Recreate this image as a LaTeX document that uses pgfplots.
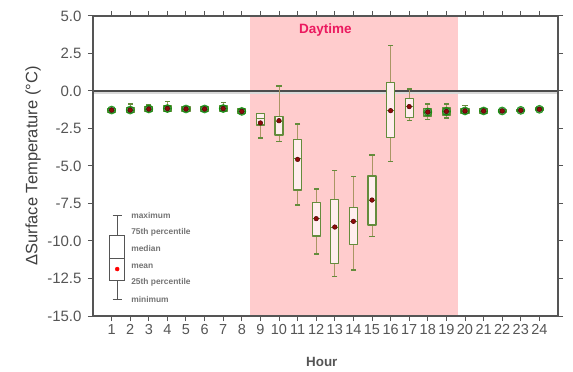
\documentclass[border=0pt]{standalone}
\usepackage{fontspec}
\setmainfont{Liberation Sans}
\usepackage{pgfplots}
\pgfplotsset{compat=1.18}
\usetikzlibrary{calc}
\definecolor{dayfill}{RGB}{255,204,205}
\definecolor{boxfill}{RGB}{255,238,238}
\definecolor{boxgreen}{RGB}{100,140,60}
\definecolor{whisk}{RGB}{170,150,100}
\definecolor{meanred}{RGB}{140,10,10}
\definecolor{daytxt}{RGB}{235,25,95}
\definecolor{axgray}{RGB}{85,85,85}
\definecolor{halo}{RGB}{40,110,40}
% position, lower whisker, lower quartile, median, upper quartile, upper whisker
\newcommand\bx[6]{%
  \pgfmathsetmacro\xl{#1-0.21}\pgfmathsetmacro\xr{#1+0.21}%
  \addplot[draw=whisk, line width=0.9pt] coordinates {(#1,#2) (#1,#3)};
  \addplot[draw=whisk, line width=0.9pt] coordinates {(#1,#5) (#1,#6)};
  \addplot[draw=boxgreen, line width=1.2pt, fill=boxfill, line join=round] coordinates {(\xl,#3) (\xr,#3) (\xr,#5) (\xl,#5) (\xl,#3)} -- cycle;
  \addplot[draw=boxgreen, line width=0.5pt] coordinates {(\xl,#4) (\xr,#4)};
}
\begin{document}
\begin{tikzpicture}
\begin{axis}[
  scale only axis, width=465pt, height=300pt,
  xmin=0, xmax=25, ymin=-15, ymax=5,
  xtick={1,...,24}, ytick={-15,-12.5,-10,-7.5,-5,-2.5,0,2.5,5},
  /pgf/number format/assume math mode=true,
  yticklabel style={/pgf/number format/fixed, /pgf/number format/fixed zerofill, /pgf/number format/precision=1, xshift=-3pt, font=\fontsize{15}{17}\selectfont},
  xticklabel style={font=\fontsize{14.5}{16}\selectfont},
  ticklabel style={text=axgray},
  tick align=outside, major tick length=5pt,
  tick style={axgray, line width=1pt},
  axis line style={axgray, line width=1.3pt},
  axis on top,
  xlabel={Hour},
  xlabel style={at={(axis description cs:0.492,-0.153)}, anchor=center, font=\fontsize{13.4}{15}\selectfont\bfseries, text=axgray},
  ylabel={ΔSurface Temperature (°C)},
  ylabel style={at={(axis description cs:-0.129,0.5)}, anchor=center, font=\fontsize{16.5}{18}\selectfont, text=black!75},
]
% daytime shading
\addplot[draw=none, fill=dayfill] coordinates {(8.42,-15) (8.42,5) (19.65,5) (19.65,-15)} -- cycle;
% zero line
\addplot[draw=black!15, line width=1.2pt] coordinates {(0,-0.13) (25,-0.13)};
\addplot[draw=black!70, line width=1.3pt] coordinates {(0,0) (25,0)};
% boxes
\bx{1}{-1.50}{-1.42}{-1.30}{-1.15}{-1.10}
\bx{2}{-1.50}{-1.42}{-1.27}{-1.10}{-0.87}
\bx{3}{-1.45}{-1.38}{-1.20}{-1.05}{-0.93}
\bx{4}{-1.45}{-1.35}{-1.17}{-1.00}{-0.71}
\bx{5}{-1.42}{-1.35}{-1.20}{-1.05}{-1.00}
\bx{6}{-1.42}{-1.35}{-1.20}{-1.05}{-1.00}
\bx{7}{-1.40}{-1.33}{-1.17}{-1.00}{-0.78}
\bx{8}{-1.60}{-1.52}{-1.36}{-1.20}{-1.15}
\bx{9}{-3.13}{-2.27}{-1.85}{-1.50}{-1.45}
\bx{10}{-3.38}{-2.93}{-2.00}{-1.71}{0.33}
\bx{11}{-7.62}{-6.60}{-4.50}{-3.22}{-2.22}
\bx{12}{-10.87}{-9.67}{-8.50}{-7.44}{-6.53}
\bx{13}{-12.38}{-11.49}{-9.10}{-7.22}{-5.31}
\bx{14}{-11.93}{-10.22}{-8.70}{-7.76}{-5.69}
\bx{15}{-9.71}{-8.93}{-7.30}{-5.67}{-4.27}
\bx{16}{-4.69}{-3.09}{-1.30}{0.58}{3.02}
\bx{17}{-1.98}{-1.76}{-1.05}{-0.49}{0.13}
\bx{18}{-1.89}{-1.67}{-1.40}{-1.16}{-0.87}
\bx{19}{-1.80}{-1.60}{-1.36}{-1.13}{-0.87}
\bx{20}{-1.60}{-1.50}{-1.33}{-1.15}{-0.98}
\bx{21}{-1.55}{-1.48}{-1.33}{-1.18}{-1.10}
\bx{22}{-1.45}{-1.40}{-1.33}{-1.26}{-1.20}
\bx{23}{-1.40}{-1.36}{-1.29}{-1.22}{-1.18}
\bx{24}{-1.35}{-1.30}{-1.22}{-1.14}{-1.10}
% whisker caps
\addplot[only marks, mark=-, mark size=2.6pt, mark options={draw=boxgreen, line width=1.6pt}] coordinates {
(2,-0.87) (3,-0.93) (4,-0.71) (7,-0.78)
(9,-3.13) (10,-3.38) (10,0.33) (11,-7.62) (11,-2.22)
(12,-10.87) (12,-6.53) (13,-12.38) (13,-5.31) (14,-11.93) (14,-5.69)
(15,-9.71) (15,-4.27) (16,-4.69) (16,3.02) (17,-1.98) (17,0.13)
(18,-1.89) (18,-0.87) (19,-1.80) (19,-0.87) (20,-0.98)};
% halo of the narrow boxes
\addplot[only marks, mark=*, mark size=4pt, mark options={fill=halo, draw=green!60!black, line width=0.8pt, opacity=0.75}] coordinates {
(1,-1.27) (2,-1.27) (3,-1.20) (4,-1.17) (5,-1.20) (6,-1.20) (7,-1.17) (8,-1.36)
(18,-1.40) (19,-1.36) (20,-1.33) (21,-1.33) (22,-1.33) (23,-1.29) (24,-1.22)};
% means
\addplot[only marks, mark=*, mark size=2.3pt, mark options={fill=meanred, draw=meanred!60!black, line width=0.5pt}] coordinates {
(1,-1.27) (2,-1.27) (3,-1.20) (4,-1.17) (5,-1.20) (6,-1.20) (7,-1.17) (8,-1.36)
(9,-2.13) (10,-1.98) (11,-4.56) (12,-8.51) (13,-9.07) (14,-8.69) (15,-7.27) (16,-1.31)
(17,-1.04) (18,-1.40) (19,-1.36) (20,-1.33) (21,-1.33) (22,-1.33) (23,-1.29) (24,-1.22)};
% key box plot
\addplot[draw=axgray, line width=0.9pt] coordinates {(1.3,-13.89) (1.3,-12.6)};
\addplot[draw=axgray, line width=0.9pt] coordinates {(1.3,-9.6) (1.3,-8.27)};
\addplot[draw=axgray, line width=0.9pt] coordinates {(1.06,-13.89) (1.54,-13.89)};
\addplot[draw=axgray, line width=0.9pt] coordinates {(1.06,-8.27) (1.54,-8.27)};
\addplot[draw=axgray, line width=0.9pt, fill=white] coordinates {(0.9,-12.6) (1.7,-12.6) (1.7,-9.6) (0.9,-9.6)} -- cycle;
\addplot[draw=axgray, line width=0.9pt] coordinates {(0.9,-11.15) (1.7,-11.15)};
\addplot[only marks, mark=*, mark size=2pt, color=red] coordinates {(1.3,-11.87)};
\begin{scope}[every node/.style={anchor=west, font=\fontsize{8.4}{9}\selectfont\bfseries, text=black!55, inner sep=0pt}]
\node at (axis cs:2.05,-8.27) {maximum};
\node at (axis cs:2.05,-9.40) {75th percentile};
\node at (axis cs:2.05,-10.53) {median};
\node at (axis cs:2.05,-11.66) {mean};
\node at (axis cs:2.05,-12.78) {25th percentile};
\node at (axis cs:2.05,-13.89) {minimum};
\end{scope}
\node[font=\fontsize{13.5}{15}\selectfont\bfseries, text=daytxt] at (axis cs:12.5,4.07) {Daytime};
\end{axis}
\pgfresetboundingbox
\path ($(current axis.south west)+(-93pt,-56pt)$) rectangle ($(current axis.north east)+(15pt,16pt)$);
\end{tikzpicture}
\end{document}
